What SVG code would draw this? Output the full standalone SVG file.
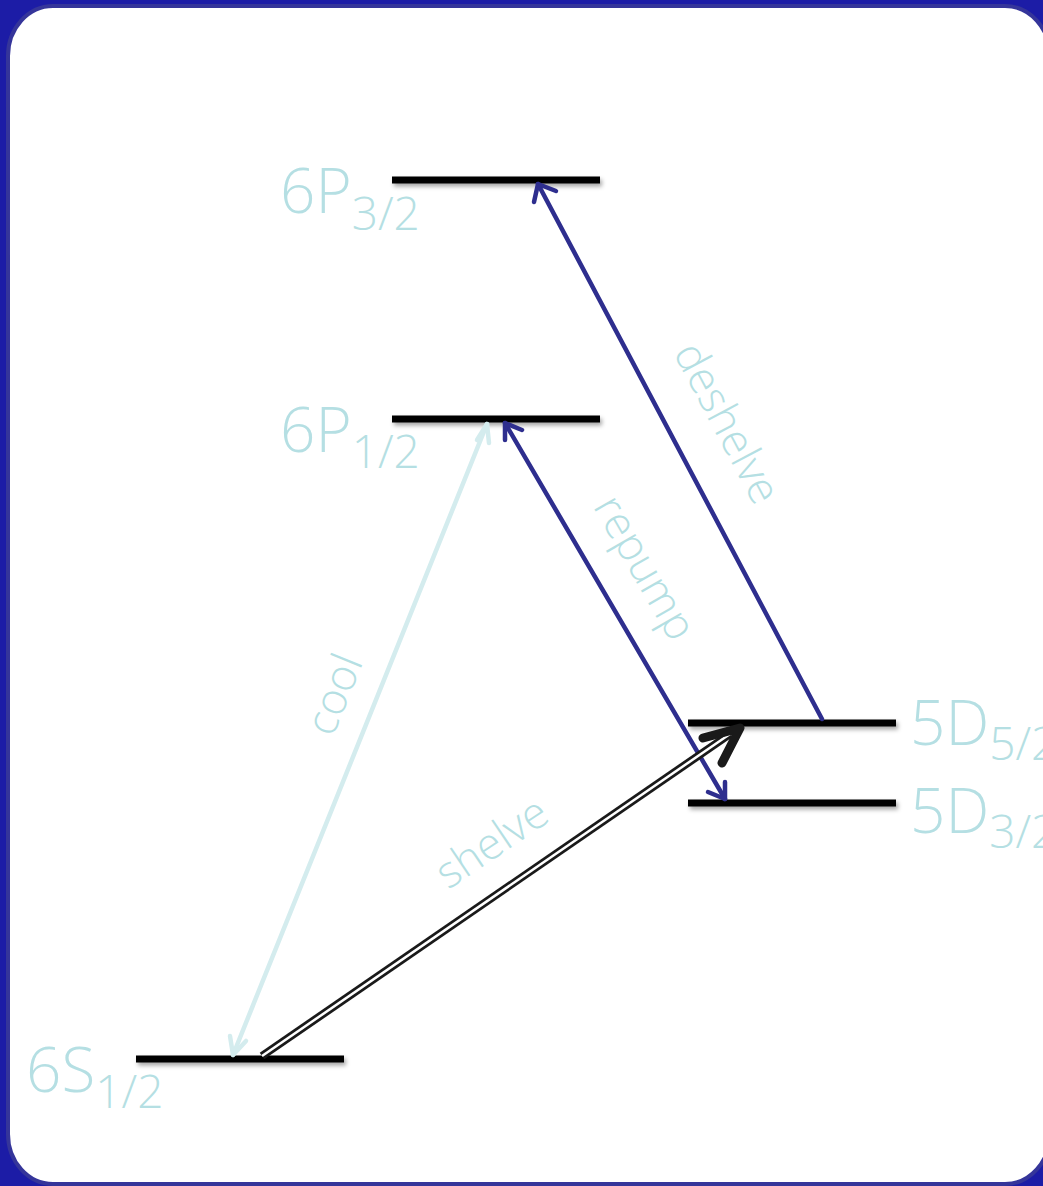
<svg xmlns="http://www.w3.org/2000/svg" width="1043" height="1186" viewBox="0 0 1043 1186">
<defs>
<filter id="sh" filterUnits="userSpaceOnUse" x="0" y="0" width="1043" height="1186">
<feDropShadow dx="2" dy="3" stdDeviation="2" flood-color="#000" flood-opacity="0.35"/>
</filter>
<style>
.lvl{fill:#000}
.lab{font-family:"Open Sans","Liberation Sans",sans-serif;font-weight:300;fill:#b5dfe3}
.big{font-size:62px}
.sub{font-size:46px}
.rl{font-size:44px}
.dk{stroke:#2e2e8e;stroke-width:4.5;fill:none;stroke-linecap:round;stroke-linejoin:round}
.lt{stroke:#d4ecee;stroke-width:4.5;fill:none;stroke-linecap:round;stroke-linejoin:round}
</style>
</defs>
<rect x="0" y="0" width="1043" height="1186" fill="#1c1ca6"/>
<rect x="8" y="6" width="1042" height="1178" rx="45" ry="50" fill="#fff" stroke="#35359a" stroke-width="4"/>

<g id="level-6P32"><rect class="lvl" x="392" y="176.5" width="208" height="7" filter="url(#sh)"/><text class="lab" x="280" y="213"><tspan class="big">6P</tspan><tspan class="sub" dy="17">3/2</tspan></text></g>
<g id="level-6P12"><rect class="lvl" x="392" y="415.5" width="208" height="7" filter="url(#sh)"/><text class="lab" x="280" y="452"><tspan class="big">6P</tspan><tspan class="sub" dy="16">1/2</tspan></text></g>
<g id="level-5D52"><rect class="lvl" x="688" y="719.5" width="208" height="7" filter="url(#sh)"/><text class="lab" x="910" y="745"><tspan class="big">5D</tspan><tspan class="sub" dy="15">5/2</tspan></text></g>
<g id="level-5D32"><rect class="lvl" x="688" y="799.5" width="208" height="7" filter="url(#sh)"/><text class="lab" x="910" y="833"><tspan class="big">5D</tspan><tspan class="sub" dy="15">3/2</tspan></text></g>
<g id="level-6S12"><rect class="lvl" x="136" y="1055.5" width="208" height="7" filter="url(#sh)"/><text class="lab" x="26" y="1092"><tspan class="big">6S</tspan><tspan class="sub" dy="16">1/2</tspan></text></g>

<g id="connectors">
<!-- deshelve -->
<line class="dk" x1="822" y1="719" x2="538" y2="184"/>
<polyline class="dk" points="534,202 538,184 556,191"/>
<!-- repump -->
<line class="dk" x1="505" y1="423" x2="725" y2="799"/>
<polyline class="dk" points="505,440 505,423 522,430"/>
<polyline class="dk" points="725,782 725,799 708,792"/>
<!-- cool -->
<line class="lt" x1="487" y1="424" x2="233" y2="1055"/>
<polyline class="lt" points="477,440 487,424 489,443"/>
<polyline class="lt" points="230,1036 233,1055 246,1041"/>
<!-- shelve -->
<line x1="262" y1="1056" x2="730" y2="734" stroke="#1a1a1a" stroke-width="8"/>
<line x1="262" y1="1056" x2="730" y2="734" stroke="#fff" stroke-width="2.5"/>
<polyline points="703,738 740,728 722,763" fill="none" stroke="#1a1a1a" stroke-width="9" stroke-linecap="round" stroke-linejoin="round"/>
</g>

<g id="labels">
<text class="lab rl" x="0" y="0" text-anchor="middle" transform="translate(714,430) rotate(62)">deshelve</text>
<text class="lab rl" x="0" y="0" text-anchor="middle" transform="translate(632,575) rotate(60)">repump</text>
<text class="lab rl" x="0" y="0" text-anchor="middle" transform="translate(348,700) rotate(-68)">cool</text>
<text class="lab rl" x="0" y="0" text-anchor="middle" transform="translate(500,855) rotate(-34)">shelve</text>
</g>
</svg>
